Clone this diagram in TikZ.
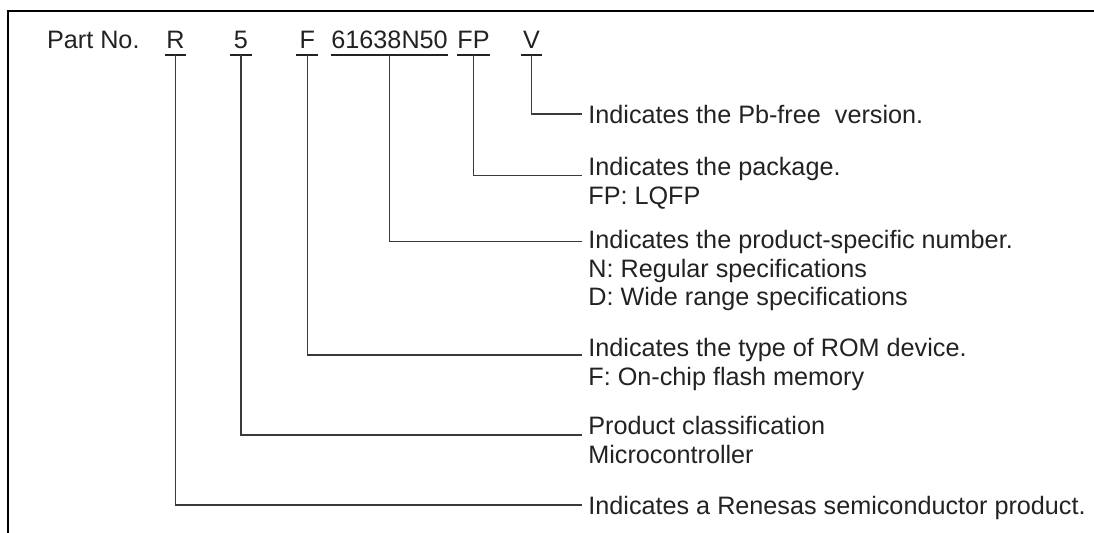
\documentclass[tikz,border=0pt]{standalone}
\usepackage{fontspec}
\setmainfont{Liberation Sans}
\usepackage{xcolor}
\usepackage{tikz}
\definecolor{ink}{HTML}{222222}
\definecolor{leadgray}{HTML}{3A3A3A}
\tikzstyle{part} = [inner xsep=0pt, inner ysep=3.25pt, text depth=0pt, minimum width=10.5pt, anchor=base, text=ink]
\tikzstyle{note} = [inner sep=0pt, anchor=north west, align=left, text=ink]
\tikzstyle{uline} = [line width=1pt, draw=ink]
\tikzstyle{lead} = [line width=0.65pt, draw=leadgray]
\tikzstyle{frame} = [line width=1pt, draw=black]

\begin{document}
\begin{tikzpicture}[x=0.5pt, y=-0.5pt, font=\fontsize{12.6}{14.2}\selectfont]
	\useasboundingbox (0,0) rectangle (1094,532);
	
	% Frame (top and left edges)
	\draw [frame] (7.5,540) -- (7.5,10.5) -- (1100,10.5);
	
	% Nodes for part number
	\node (partno) [part, anchor=base west] at (46.7,48.5) {Part No.};
	\node (pR) [part] at (175.5,48.5) {R};
	\node (p5) [part] at (241,48.5) {5};
	\node (pF) [part] at (307.3,48.5) {F};
	\node (pNum) [part] at (389.6,48.5) {61638N50};
	\node (pFP) [part] at (473.5,48.5) {FP};
	\node (pV) [part] at (531.5,48.5) {V};
	
	% Underlines
	\foreach \p in {pR,p5,pF,pNum,pFP,pV}
		\draw [uline] (\p.south west) -- (\p.south east);
	
	% Nodes for explanations
	\node (labV) [note] at (588,105) {Indicates the Pb-free\ \ version.};
	\node (labFP) [note] at (588,157) {Indicates the package.\\FP: LQFP};
	\node (labNum) [note] at (588,230) {Indicates the product-specific number.\\N: Regular specifications\\D: Wide range specifications};
	\node (labF) [note] at (588,338) {Indicates the type of ROM device.\\F: On-chip flash memory};
	\node (lab5) [note] at (588,416) {Product classification\\Microcontroller};
	\node (labR) [note] at (588,496) {Indicates a Renesas semiconductor product.};
	
	% Leader lines
	\draw [lead] (pV.south) |- ([shift={(-6,9)}]labV.north west);
	\draw [lead] (pFP.south) |- ([shift={(-6,18.5)}]labFP.north west);
	\draw [lead] (pNum.south) |- ([shift={(-6,11.5)}]labNum.north west);
	\draw [lead] (pF.south) |- ([shift={(-6,17)}]labF.north west);
	\draw [lead] (p5.south) |- ([shift={(-6,19)}]lab5.north west);
	\draw [lead] (pR.south) |- ([shift={(-6,9)}]labR.north west);
	
\end{tikzpicture}
\end{document}
